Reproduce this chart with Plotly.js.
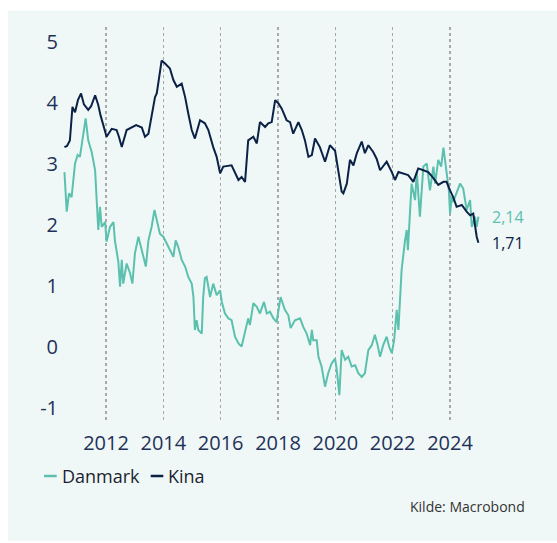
<!DOCTYPE html>
<html>
<head>
<meta charset="utf-8">
<script src="https://cdn.plot.ly/plotly-3.0.1.min.js"></script>
<style>
  html, body { margin: 0; padding: 0; background: #ffffff; }
  #chart { width: 557px; height: 543px; }
</style>
</head>
<body>
<div id="chart"></div>
<script>
// ---- Data ----
const seriesNames = ["Danmark", "Kina"];
const seriesColors = ["#5cc0ae", "#0c2146"];

const danmarkYear = [2010.55, 2010.63, 2010.71, 2010.80, 2010.92, 2011.01, 2011.09, 2011.21, 2011.29, 2011.38,
  2011.50, 2011.62, 2011.68, 2011.73, 2011.79, 2011.85, 2011.97, 2012.02, 2012.14, 2012.26,
  2012.31, 2012.43, 2012.49, 2012.55, 2012.60, 2012.72, 2012.84, 2012.92, 2013.01, 2013.13,
  2013.22, 2013.30, 2013.39, 2013.48, 2013.59, 2013.69, 2013.77, 2013.88, 2014.00, 2014.12,
  2014.23, 2014.35, 2014.43, 2014.52, 2014.64, 2014.76, 2014.87, 2014.99, 2015.05, 2015.10,
  2015.16, 2015.22, 2015.34, 2015.39, 2015.45, 2015.51, 2015.63, 2015.74, 2015.86, 2015.98,
  2016.04, 2016.15, 2016.27, 2016.38, 2016.50, 2016.62, 2016.73, 2016.85, 2016.96, 2017.02,
  2017.14, 2017.26, 2017.37, 2017.51, 2017.61, 2017.72, 2017.84, 2017.95, 2018.09, 2018.24,
  2018.36, 2018.44, 2018.59, 2018.77, 2018.88, 2019.00, 2019.12, 2019.18, 2019.23, 2019.35,
  2019.41, 2019.52, 2019.64, 2019.75, 2019.87, 2019.99, 2020.05, 2020.14, 2020.22, 2020.34,
  2020.45, 2020.57, 2020.69, 2020.80, 2020.92, 2021.03, 2021.15, 2021.27, 2021.38, 2021.46,
  2021.56, 2021.67, 2021.79, 2021.88, 2021.97, 2022.05, 2022.14, 2022.20, 2022.26, 2022.31,
  2022.43, 2022.49, 2022.53, 2022.59, 2022.66, 2022.78, 2022.84, 2022.95, 2023.07, 2023.19,
  2023.30, 2023.42, 2023.48, 2023.59, 2023.69, 2023.77, 2023.82, 2023.88, 2023.96, 2024.00,
  2024.06, 2024.11, 2024.23, 2024.35, 2024.46, 2024.58, 2024.70, 2024.76, 2024.87, 2024.93,
  2024.99];
const danmarkValue = [2.87, 2.22, 2.52, 2.46, 3.01, 3.15, 3.12, 3.50, 3.75, 3.39,
  3.20, 2.90, 2.41, 1.92, 2.30, 1.97, 2.05, 1.73, 1.97, 2.05,
  1.75, 1.40, 0.99, 1.43, 1.04, 1.37, 1.21, 1.04, 1.54, 1.81,
  1.64, 1.48, 1.32, 1.75, 1.97, 2.25, 2.08, 1.86, 1.81, 1.70,
  1.59, 1.48, 1.75, 1.64, 1.43, 1.32, 1.15, 1.04, 0.82, 0.28,
  0.44, 0.28, 0.22, 0.82, 1.13, 1.15, 0.82, 1.04, 0.85, 0.93,
  0.74, 0.55, 0.47, 0.44, 0.17, 0.06, 0.01, 0.28, 0.47, 0.36,
  0.72, 0.66, 0.55, 0.74, 0.55, 0.58, 0.47, 0.41, 0.82, 0.61,
  0.52, 0.31, 0.44, 0.47, 0.33, 0.22, 0.03, 0.28, 0.11, 0.11,
  -0.16, -0.32, -0.65, -0.43, -0.27, -0.19, -0.38, -0.79, -0.05, -0.21,
  -0.16, -0.32, -0.30, -0.43, -0.49, -0.43, -0.05, 0.03, 0.20, 0.06,
  -0.16, 0.03, 0.17, 0.00, -0.10, 0.11, 0.61, 0.28, 0.93, 1.26,
  1.75, 1.92, 1.59, 2.20, 2.68, 2.41, 2.87, 2.14, 2.96, 3.01,
  2.57, 2.96, 2.68, 3.07, 2.96, 3.27, 3.07, 2.87, 2.57, 2.19,
  2.46, 2.38, 2.52, 2.68, 2.60, 2.25, 2.41, 1.97, 2.14, 1.97,
  2.14];

const kinaYear = [2010.55, 2010.64, 2010.74, 2010.83, 2010.92, 2011.02, 2011.13, 2011.23, 2011.38, 2011.48,
  2011.62, 2011.73, 2011.81, 2011.91, 2012.02, 2012.20, 2012.37, 2012.45, 2012.55, 2012.72,
  2012.90, 2013.05, 2013.25, 2013.36, 2013.48, 2013.59, 2013.71, 2013.77, 2013.88, 2013.94,
  2014.06, 2014.23, 2014.35, 2014.47, 2014.64, 2014.76, 2014.87, 2014.99, 2015.10, 2015.28,
  2015.45, 2015.57, 2015.74, 2015.86, 2015.98, 2016.09, 2016.38, 2016.50, 2016.62, 2016.73,
  2016.85, 2016.96, 2017.14, 2017.26, 2017.37, 2017.55, 2017.66, 2017.78, 2017.90, 2018.01,
  2018.13, 2018.30, 2018.42, 2018.53, 2018.71, 2018.83, 2018.94, 2019.06, 2019.18, 2019.29,
  2019.46, 2019.64, 2019.81, 2019.99, 2020.10, 2020.22, 2020.28, 2020.40, 2020.51, 2020.63,
  2020.75, 2020.92, 2021.03, 2021.15, 2021.32, 2021.44, 2021.56, 2021.67, 2021.79, 2021.97,
  2022.08, 2022.20, 2022.37, 2022.54, 2022.72, 2022.89, 2023.07, 2023.24, 2023.42, 2023.59,
  2023.77, 2023.88, 2024.00, 2024.11, 2024.23, 2024.41, 2024.58, 2024.70, 2024.81, 2024.93,
  2024.99];
const kinaValue = [3.28, 3.30, 3.39, 3.94, 3.85, 4.05, 4.16, 3.98, 3.89, 3.95,
  4.13, 3.97, 3.80, 3.61, 3.45, 3.58, 3.56, 3.45, 3.28, 3.56,
  3.61, 3.64, 3.60, 3.45, 3.50, 3.78, 4.10, 4.16, 4.49, 4.70,
  4.65, 4.57, 4.38, 4.27, 4.32, 4.10, 3.83, 3.56, 3.42, 3.72,
  3.67, 3.56, 3.28, 3.12, 2.85, 2.96, 2.98, 2.87, 2.74, 2.79,
  2.71, 3.39, 3.45, 3.34, 3.69, 3.61, 3.67, 3.69, 4.05, 4.00,
  3.91, 3.72, 3.69, 3.50, 3.69, 3.56, 3.39, 3.12, 3.15, 3.42,
  3.28, 3.04, 3.31, 3.22, 2.90, 2.55, 2.52, 2.68, 3.07, 2.98,
  3.18, 3.37, 3.18, 3.31, 3.20, 3.09, 2.90, 2.96, 3.04, 2.87,
  2.74, 2.87, 2.85, 2.82, 2.71, 2.93, 2.90, 2.87, 2.77, 2.66,
  2.71, 2.71, 2.57, 2.46, 2.30, 2.33, 2.22, 2.16, 2.19, 1.81,
  1.71];

const xTickYears = [2012, 2014, 2016, 2018, 2020, 2022, 2024];
const yTickValues = [-1, 0, 1, 2, 3, 4, 5];
const yTickLabels = ["-1", "0", "1", "2", "3", "4", "5"];
const sourceText = "Kilde: Macrobond";

// ---- Geometry helpers (plot area in pixels) ----
const W = 557, H = 543;
const M = { l: 62, r: 72, t: 27, b: 121 };
const PW = W - M.l - M.r, PH = H - M.t - M.b;
const px = (x) => (x - M.l) / PW;             // page px -> paper x
const py = (y) => (H - M.b - y) / PH;         // page px -> paper y

const tickColor = "#1f3157";
const fontFamily = "'Open Sans', 'Noto Sans', sans-serif";

const xs = [danmarkYear, kinaYear];
const ys = [danmarkValue, kinaValue];

const traces = seriesNames.map((name, i) => ({
  type: "scatter",
  mode: "lines",
  name: name,
  x: xs[i],
  y: ys[i],
  line: { color: seriesColors[i], width: 2 },
  hoverinfo: "skip",
  showlegend: false
}));

const endLabels = seriesNames.map((name, i) => {
  const n = xs[i].length - 1;
  return {
    xref: "x", yref: "y",
    x: xs[i][n], y: ys[i][n],
    xanchor: "left", yanchor: "middle",
    xshift: 12,
    showarrow: false,
    text: ys[i][n].toFixed(2).replace(".", ","),
    font: { family: fontFamily, size: 16, color: seriesColors[i] }
  };
});

// manual legend (short line samples + labels)
const legendY = py(476);
const legendItems = [
  { x0: 44, x1: 56.7, tx: 60 },
  { x0: 150.7, x1: 163.3, tx: 166 }
];
const legendShapes = legendItems.map((it, i) => ({
  type: "line", xref: "paper", yref: "paper",
  x0: px(it.x0), x1: px(it.x1), y0: legendY, y1: legendY,
  line: { color: seriesColors[i], width: 2.5 }
}));
const legendTexts = legendItems.map((it, i) => ({
  xref: "paper", yref: "paper",
  x: px(it.tx), y: legendY,
  xanchor: "left", yanchor: "middle",
  showarrow: false,
  text: seriesNames[i],
  font: { family: fontFamily, size: 18, color: "#1c1f2e" }
}));

const layout = {
  width: W, height: H,
  margin: M,
  paper_bgcolor: "#ffffff",
  plot_bgcolor: "rgba(0,0,0,0)",
  font: { family: fontFamily, color: tickColor },
  showlegend: false,
  xaxis: {
    type: "linear",
    range: [2010.465, 2025.22],
    tickmode: "array",
    tickvals: xTickYears,
    ticktext: xTickYears.map(String),
    ticks: "",
    ticklabelstandoff: 7,
    showgrid: true,
    gridcolor: "#a8a8a8",
    griddash: "dot",
    gridwidth: 1.5,
    zeroline: false,
    showline: false,
    tickfont: { family: fontFamily, size: 20, color: tickColor },
    fixedrange: true
  },
  yaxis: {
    range: [-1.23, 5.25],
    tickmode: "array",
    tickvals: yTickValues,
    ticktext: yTickLabels,
    ticks: "",
    ticklabelstandoff: 3,
    showgrid: false,
    zeroline: false,
    showline: false,
    tickfont: { family: fontFamily, size: 20, color: tickColor },
    fixedrange: true
  },
  shapes: [
    {
      type: "rect", xref: "paper", yref: "paper", layer: "below",
      x0: px(8), x1: px(W + 2), y0: py(541), y1: py(10.5),
      fillcolor: "#eff8f7", line: { width: 0 }
    }
  ].concat(legendShapes),
  annotations: endLabels.concat(legendTexts).concat([
    {
      xref: "paper", yref: "paper",
      x: px(527), y: py(506),
      xanchor: "right", yanchor: "middle",
      showarrow: false,
      text: sourceText,
      font: { family: fontFamily, size: 14, color: "#333333" }
    }
  ])
};

Plotly.newPlot("chart", traces, layout, { displayModeBar: false, staticPlot: true });
</script>
</body>
</html>
